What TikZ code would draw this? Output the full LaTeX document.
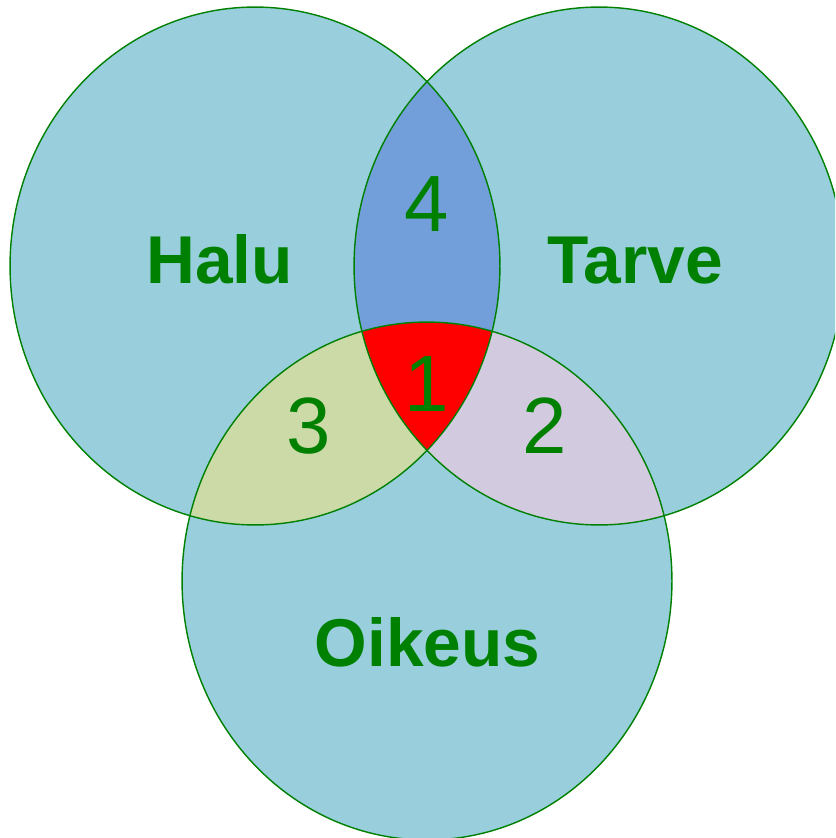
\documentclass[tikz,border=0pt]{standalone}
\usepackage{fontspec}
\setmainfont{Liberation Sans}
\definecolor{setfill}{RGB}{153,207,220}
\definecolor{edge}{RGB}{0,128,0}
\definecolor{regfour}{RGB}{114,159,217}
\definecolor{regthree}{RGB}{204,218,168}
\definecolor{regtwo}{RGB}{210,202,223}
\definecolor{regone}{RGB}{255,0,0}
\tikzset{
  setlabel/.style={anchor=base,inner sep=0pt,text=edge,font=\fontsize{38.5}{40}\selectfont\bfseries},
  numlabel/.style={anchor=base,inner sep=0pt,text=edge,font=\fontsize{45.4}{48}\selectfont},
  outline/.style={draw=edge,line width=0.8pt}
}
\begin{document}
\begin{tikzpicture}[x=0.02cm,y=-0.02cm]
\useasboundingbox (0,0) rectangle (835,838);
\clip (0,0) rectangle (835,838);
\def\Lset{(255,266) ellipse [x radius=4.9cm, y radius=5.18cm]}
\def\Rset{(599,266) ellipse [x radius=4.9cm, y radius=5.18cm]}
\def\Bset{(427,581) ellipse [x radius=4.9cm, y radius=5.18cm]}
% base fills
\fill[setfill] \Lset;
\fill[setfill] \Rset;
\fill[setfill] \Bset;
% left & right
\begin{scope}
  \clip \Lset;
  \fill[regfour] \Rset;
\end{scope}
% left & bottom
\begin{scope}
  \clip \Lset;
  \fill[regthree] \Bset;
\end{scope}
% right & bottom
\begin{scope}
  \clip \Rset;
  \fill[regtwo] \Bset;
\end{scope}
% all three
\begin{scope}
  \clip \Lset;
  \clip \Rset;
  \fill[regone] \Bset;
\end{scope}
% outlines
\draw[outline] \Lset;
\draw[outline] \Rset;
\draw[outline] \Bset;
% labels
\node[setlabel] (halu) at (219.5,283) {Halu};
\node[setlabel] (tarve) at (635,283) {Tarve};
\node[setlabel] (oikeus) at (427.5,666) {Oikeus};
\node[numlabel] (n4) at (427,231) {4};
\node[numlabel] (n1) at (427,411) {1};
\node[numlabel] (n3) at (308.5,453) {3};
\node[numlabel] (n2) at (545,453) {2};
\end{tikzpicture}
\end{document}
